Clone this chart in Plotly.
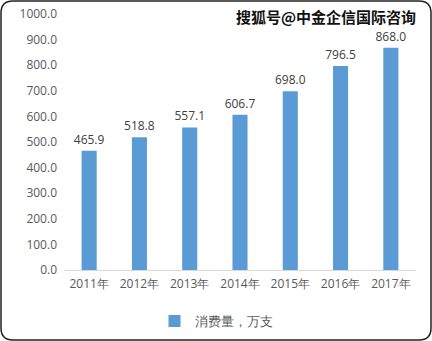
import plotly.graph_objects as go

years = ["2011年", "2012年", "2013年", "2014年", "2015年", "2016年", "2017年"]
values = [465.9, 518.8, 557.1, 606.7, 698.0, 796.5, 868.0]
series_name = "消费量，万支"
y_ticks = [0, 100, 200, 300, 400, 500, 600, 700, 800, 900, 1000]

W, H = 432, 341
ML, MR, MT, MB = 64, 16, 14, 71
fig = go.Figure()
fig.add_trace(go.Bar(
    x=years, y=values, name=series_name,
    marker=dict(color="#5B9BD5", line=dict(width=0)),
    text=[f"{v:.1f}" for v in values], textposition="outside", constraintext="none",
    textfont=dict(size=12, color="#404040"), cliponaxis=False,
))

fig.update_layout(
    width=W, height=H,
    margin=dict(l=ML, r=MR, t=MT, b=MB, autoexpand=False),
    paper_bgcolor="white", plot_bgcolor="white",
    font=dict(family="Open Sans, DejaVu Sans, sans-serif", color="#595959", size=12),
    bargap=0.7,
    showlegend=True,
    legend=dict(orientation="h", x=0.5, xanchor="center", xref="container",
                y=(H - 321) / H, yanchor="middle", yref="container",
                bgcolor="rgba(0,0,0,0)",
                font=dict(size=13, color="#595959")),
    xaxis=dict(showline=True, linecolor="#D9D9D9", linewidth=1, ticks="",
               tickfont=dict(size=12, color="#595959"), fixedrange=True,
               ticklabelstandoff=3),
    yaxis=dict(range=[0, 1000], tickvals=y_ticks, ticktext=[f"{v:.1f}" for v in y_ticks],
               showgrid=False, zeroline=False, showline=False, ticks="",
               tickfont=dict(size=12, color="#595959"), ticklabelstandoff=6),
    annotations=[dict(text="<b>搜狐号@中金企信国际咨询</b>", xref="paper", yref="paper",
                      x=(418 - ML) / (W - ML - MR), y=(H - MB - 16) / (H - MT - MB),
                      xanchor="right", yanchor="middle", showarrow=False,
                      font=dict(size=15, color="#111111", family="Noto Sans CJK SC"))],
)

r = 12
x0, y0, x1, y1 = 1, 1, W - 1, H - 1
pw = W - ML - MR
ph = H - MT - MB
def px(x):
    return (x - ML) / pw
def py(y):
    return (H - MB - y) / ph
path_paper = (f"M {px(x0+r)},{py(y0)} L {px(x1-r)},{py(y0)} Q {px(x1)},{py(y0)} {px(x1)},{py(y0+r)} "
              f"L {px(x1)},{py(y1-r)} Q {px(x1)},{py(y1)} {px(x1-r)},{py(y1)} "
              f"L {px(x0+r)},{py(y1)} Q {px(x0)},{py(y1)} {px(x0)},{py(y1-r)} "
              f"L {px(x0)},{py(y0+r)} Q {px(x0)},{py(y0)} {px(x0+r)},{py(y0)} Z")
fig.add_shape(type="path", xref="paper", yref="paper", path=path_paper,
              line=dict(color="#222222", width=1.5), fillcolor="rgba(0,0,0,0)", layer="above")
fig.write_html("out.html")
